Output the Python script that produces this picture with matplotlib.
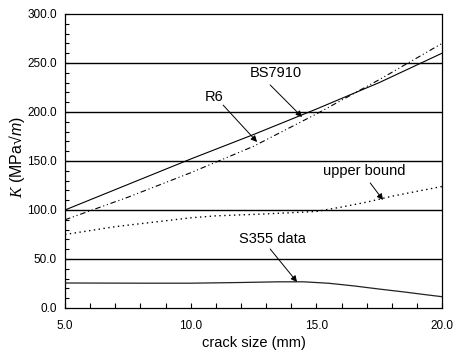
import matplotlib
matplotlib.use("Agg")
import matplotlib.pyplot as plt
from matplotlib.ticker import MultipleLocator, FormatStrFormatter
import numpy as np

plt.rcParams['font.family'] = ['Liberation Sans', 'DejaVu Sans']
plt.rcParams['mathtext.fontset'] = 'custom'
plt.rcParams['mathtext.rm'] = 'Liberation Serif:italic'
plt.rcParams['mathtext.it'] = 'Liberation Sans:italic'

# Data
bs_x = [5.0, 7.5, 10.0, 12.5, 15.0, 17.5, 20.0]
bs_y = [100.0, 126.0, 152.0, 177.0, 203.0, 230.0, 260.0]

r6_x = [5.0, 7.5, 10.0, 12.5, 15.0, 17.5, 20.0]
r6_y = [90.0, 113.0, 138.0, 165.0, 198.0, 233.0, 270.0]

ub_x = [5.0, 7.0, 9.0, 10.0, 11.0, 13.0, 15.0, 16.0, 17.0, 18.0, 19.0, 20.0]
ub_y = [75.0, 83.0, 89.0, 92.0, 94.0, 96.0, 98.5, 103.0, 108.0, 114.0, 119.0, 124.0]

s355_x = [5.0, 8.0, 10.0, 12.0, 13.5, 14.5, 15.5, 16.5, 17.5, 18.5, 19.3, 20.0]
s355_y = [25.5, 25.3, 25.3, 26.0, 26.7, 26.7, 25.2, 22.5, 19.3, 16.3, 13.7, 11.5]

y_ticks = [0, 50, 100, 150, 200, 250, 300]
x_ticks = [5, 10, 15, 20]

fig = plt.figure(figsize=(4.61, 3.54), dpi=100)
ax = fig.add_axes([0.141, 0.130, 0.818, 0.8305])

for yv in y_ticks[1:-1]:
    ax.axhline(yv, color='black', lw=1.0, zorder=1)

ax.plot(bs_x, bs_y, color='black', lw=0.8, zorder=3)
ax.plot(r6_x, r6_y, color='black', lw=0.8, linestyle=(0, (5, 2.5, 1, 2.5, 1, 2.5)), zorder=3)
ax.plot(ub_x, ub_y, color='black', lw=1.0, linestyle=(0, (1, 2.5)), zorder=3)
ax.plot(s355_x, s355_y, color='#222222', lw=0.9, zorder=3)

ax.set_xlim(5, 20)
ax.set_ylim(0, 300)
ax.set_xticks(x_ticks)
ax.set_yticks(y_ticks)
ax.xaxis.set_minor_locator(MultipleLocator(1))
ax.yaxis.set_minor_locator(MultipleLocator(10))
ax.xaxis.set_major_formatter(FormatStrFormatter('%.1f'))
ax.yaxis.set_major_formatter(FormatStrFormatter('%.1f'))
ax.tick_params(axis='both', which='both', direction='in', length=3.5, width=0.8,
               labelsize=8.5, colors='black')
ax.tick_params(axis='x', which='both', pad=8.5)
ax.tick_params(axis='y', which='both', pad=6, length=3)
ax.tick_params(top=False, right=False)
for s in ax.spines.values():
    s.set_linewidth(0.9)
    s.set_color('black')

ax.set_xlabel('crack size (mm)', fontsize=10.5, labelpad=3)
fig.text(17 / 461, 1 - 157 / 354, r'$\mathrm{K}$ (MPa√$m$)', fontsize=11.5,
         rotation=90, ha='center', va='center')

arrow = dict(arrowstyle='-|>', color='black', lw=0.7, mutation_scale=9, shrinkA=0, shrinkB=0)
ann = [
    ('R6', (10.93, 215.3), (11.29, 207.0), (12.64, 169.4)),
    ('BS7910', (13.4, 239.8), (13.16, 227.6), (14.43, 194.9)),
    ('upper bound', (16.9, 139.8), (17.14, 127.6), (17.65, 110.2)),
    ('S355 data', (13.24, 70.4), (13.16, 60.2), (14.23, 26.5)),
]
for label, tpos, tail, head in ann:
    ax.text(tpos[0], tpos[1], label, fontsize=10.5, ha='center', va='center', zorder=5)
    ax.annotate('', xy=head, xytext=tail, arrowprops=arrow, zorder=5)

fig.savefig('out.png', dpi=100)
